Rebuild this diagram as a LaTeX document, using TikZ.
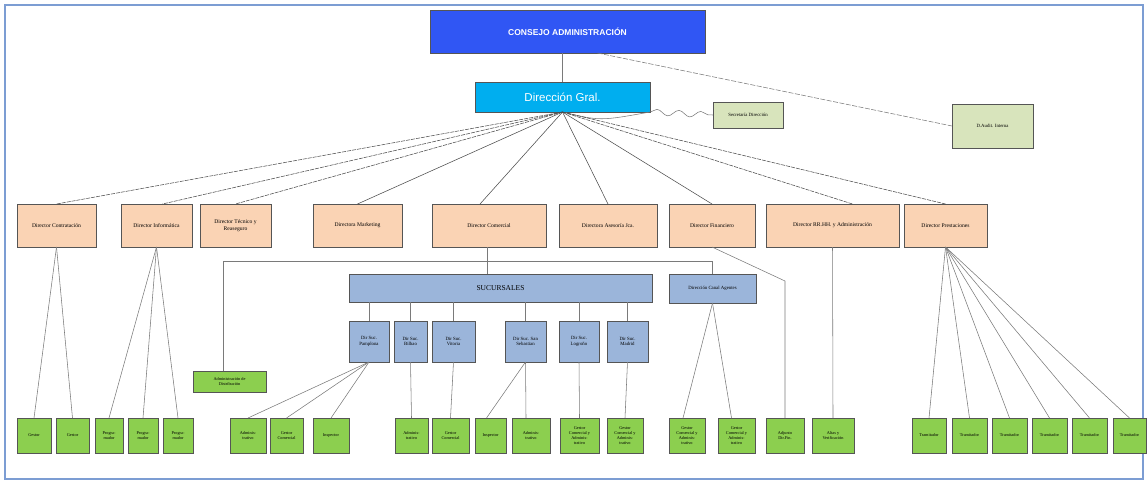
\documentclass[tikz,border=0pt]{standalone}
\usepackage{fontspec}
\setmainfont{Liberation Serif}
\newfontfamily\hsans{Liberation Sans}
\usetikzlibrary{decorations.pathmorphing}
\definecolor{consejo}{HTML}{3056F4}
\definecolor{dgral}{HTML}{00AEEF}
\definecolor{peach}{HTML}{FAD3B4}
\definecolor{steel}{HTML}{9BB5DA}
\definecolor{lgreen}{HTML}{8CCF4F}
\definecolor{olivebox}{HTML}{D8E4BC}
\definecolor{framecol}{HTML}{7C9DD3}
\definecolor{edgecol}{HTML}{555555}
\definecolor{wirecol}{HTML}{7A7A7A}
\newcommand\obox[6]{\node[#1,minimum width=#4pt-#2pt,minimum height=#5pt-#3pt] (#6) at ({(#2+#4)/2},{(#3+#5)/2})}
\tikzset{
  base/.style={inner sep=1pt, outer sep=0pt, align=center},
  topbox/.style={base, draw=edgecol, fill=consejo, line width=0.8pt, text=white, font=\hsans\bfseries\fontsize{8.5}{10}\selectfont},
  dgbox/.style={base, draw=edgecol, fill=dgral, line width=0.8pt, text=white, font=\hsans\fontsize{11.5}{13}\selectfont},
  staff/.style={base, draw=edgecol, fill=olivebox, line width=1pt, font=\fontsize{4.8}{5.8}\selectfont},
  dir/.style={base, draw=edgecol, fill=peach, line width=1pt, font=\fontsize{5.6}{6.6}\selectfont},
  suc/.style={base, draw=edgecol, fill=steel, line width=0.9pt, font=\fontsize{4.8}{5.8}\selectfont},
  sucbig/.style={suc, font=\fontsize{7.5}{8.5}\selectfont},
  leaf/.style={base, draw=edgecol, fill=lgreen, line width=1pt, font=\fontsize{4.3}{5.2}\selectfont},
  wire/.style={draw=wirecol, line width=0.55pt},
  fan/.style={draw=black!70, line width=0.55pt},
  dfan/.style={fan, dashed, dash pattern=on 4pt off 1pt},
}
\begin{document}
\begin{tikzpicture}[x=1pt,y=-1pt]
\useasboundingbox (0,0) rectangle (1147,483);
\draw[framecol, line width=1.2pt] (5,5) rectangle (1143,479);

% top
\obox{topbox}{430}{10}{705}{53}{consejo} {CONSEJO ADMINISTRACIÓN};
\obox{dgbox}{475}{82}{650}{112}{dg} {Dirección Gral.};
\obox{staff}{713}{102}{783}{128}{sec} {Secretaría Dirección};
\obox{staff}{952}{104}{1033}{148}{audit} {D.Audit. Interna};

% directors
\obox{dir}{17}{204}{96}{247}{contr} {Director Contratación};
\obox{dir}{121}{204}{192}{247}{inf} {Director Informática};
\obox{dir}{200}{204}{271}{247}{tec} {Director Técnico y\\Reaseguro};
\obox{dir}{313}{204}{402}{247}{mkt} {Directora Marketing};
\obox{dir}{432}{204}{546}{247}{com} {Director Comercial};
\obox{dir}{559}{204}{657}{247}{ase} {Directora Asesoría Jca.};
\obox{dir}{669}{204}{755}{247}{fin} {Director Financiero};
\obox{dir}{766}{204}{899}{247}{rrhh} {Director RR.HH. y Administración};
\obox{dir}{904}{204}{987}{247}{prest} {Director Prestaciones};

% sucursales
\obox{sucbig}{349}{274}{652}{302}{suc} {SUCURSALES};
\obox{suc}{669}{274}{756}{303}{canal} {Dirección Canal Agentes};
\obox{suc}{349}{321}{389}{362}{pam} {Dir Suc.\\Pamplona};
\obox{suc}{394}{321}{427}{362}{bil} {Dir Suc.\\Bilbao};
\obox{suc}{432}{321}{475}{362}{vit} {Dir Suc.\\Vitoria};
\obox{suc}{505}{321}{546}{362}{sse} {Dir Suc. San\\Sebastian};
\obox{suc}{559}{321}{599}{362}{log} {Dir Suc.\\Logroño};
\obox{suc}{607}{321}{648}{362}{mad} {Dir Suc.\\Madrid};
\obox{leaf}{193}{371}{266}{392}{admd} {Administración de\\Distribución};

% leaves
\obox{leaf}{17}{418}{51}{453}{g1} {Gestor};
\obox{leaf}{56}{418}{89}{453}{g2} {Gestor};
\obox{leaf}{95}{418}{123}{453}{p1} {Progra-\\mador};
\obox{leaf}{128}{418}{158}{453}{p2} {Progra-\\mador};
\obox{leaf}{163}{418}{193}{453}{p3} {Progra-\\mador};
\obox{leaf}{230}{418}{266}{453}{pa1} {Adminis-\\trativo};
\obox{leaf}{270}{418}{303}{453}{pa2} {Gestor\\Comercial};
\obox{leaf}{313}{418}{349}{453}{pa3} {Inspector};
\obox{leaf}{395}{418}{428}{453}{bi1} {Adminis-\\trativo};
\obox{leaf}{432}{418}{469}{453}{vi1} {Gestor\\Comercial};
\obox{leaf}{475}{418}{506}{453}{ss1} {Inspector};
\obox{leaf}{512}{418}{550}{453}{ss2} {Adminis-\\trativo};
\obox{leaf}{560}{418}{599}{453}{lo1} {Gestor\\Comercial y\\Adminis-\\trativo};
\obox{leaf}{607}{418}{643}{453}{ma1} {Gestor\\Comercial y\\Adminis-\\trativo};
\obox{leaf}{669}{418}{705}{453}{ca1} {Gestor\\Comercial y\\Adminis-\\trativo};
\obox{leaf}{718}{418}{755}{453}{ca2} {Gestor\\Comercial y\\Adminis-\\trativo};
\obox{leaf}{766}{418}{804}{453}{adj} {Adjunto\\Dir.Fin.};
\obox{leaf}{812}{418}{854}{453}{alt} {Altas y\\Verificación};
\obox{leaf}{912}{418}{946}{453}{t1} {Tramitador};
\obox{leaf}{952}{418}{987}{453}{t2} {Tramitador};
\obox{leaf}{992}{418}{1027}{453}{t3} {Tramitador};
\obox{leaf}{1032}{418}{1067}{453}{t4} {Tramitador};
\obox{leaf}{1072}{418}{1107}{453}{t5} {Tramitador};
\obox{leaf}{1113}{418}{1146}{453}{t6} {Tramitador};

\coordinate (busL) at (223,261);
\coordinate (finbend) at (785,281);

% top connectors
\draw[wire] (consejo.south -| dg.north) -- (dg.north);
\draw[wire, dashed, dash pattern=on 5pt off 1.5pt] ([xshift=30pt]consejo.south) -- (audit.west);
\draw[wire] (dg.south) .. controls (600,121) .. (dg.south east)
  decorate[decoration={snake, amplitude=3pt, segment length=22pt}] {-- (sec.west)};

% DG fan
\draw[dfan] (dg.south) -- (contr.north);
\draw[dfan] (dg.south) -- ([xshift=6pt]inf.north);
\draw[dfan] (dg.south) -- (tec.north);
\draw[fan] (dg.south) -- (mkt.north);
\draw[fan] (dg.south) -- ([xshift=-9pt]com.north);
\draw[fan] (dg.south) -- (ase.north);
\draw[fan] (dg.south) -- (fin.north);
\draw[dfan] (dg.south) -- ([xshift=20pt]rrhh.north);
\draw[dfan] (dg.south) -- (prest.north);

% comercial bus
\draw[wire] ([xshift=-2pt]com.south) -- ([xshift=-2pt]com.south |- busL);
\draw[wire] ([xshift=-2pt]com.south |- busL) -- ([xshift=-2pt]com.south |- suc.north);
\draw[wire] (busL) -- (busL |- admd.north);
\draw[wire] (busL) -- (canal.north |- busL) -- (canal.north);

% sucursales to dir suc
\foreach \n in {pam,bil,vit,sse,log,mad}
  \draw[wire] (suc.south -| \n.north) -- (\n.north);

% financiero, rrhh
\draw[wire] (fin.south) -- (finbend) -- (adj.north);
\draw[wire] (rrhh.south) -- (alt.north);

% leaves
\draw[wire] (contr.south) -- (g1.north);
\draw[wire] (contr.south) -- (g2.north);
\foreach \n in {p1,p2,p3} \draw[wire] (inf.south) -- (\n.north);
\foreach \n in {pa1,pa2,pa3} \draw[wire] (pam.south) -- (\n.north);
\draw[wire] (bil.south) -- (bi1.north);
\draw[wire] (vit.south) -- (vi1.north);
\draw[wire] (sse.south) -- ([xshift=-4pt]ss1.north);
\draw[wire] (sse.south) -- ([xshift=-5pt]ss2.north);
\draw[wire] (log.south) -- (lo1.north);
\draw[wire] (mad.south) -- (ma1.north);
\draw[wire] (canal.south) -- ([xshift=-4pt]ca1.north);
\draw[wire] (canal.south) -- ([xshift=-5pt]ca2.north);
\foreach \n in {t1,t2,t3,t4,t5,t6} \draw[wire] (prest.south) -- (\n.north);
\end{tikzpicture}
\end{document}
